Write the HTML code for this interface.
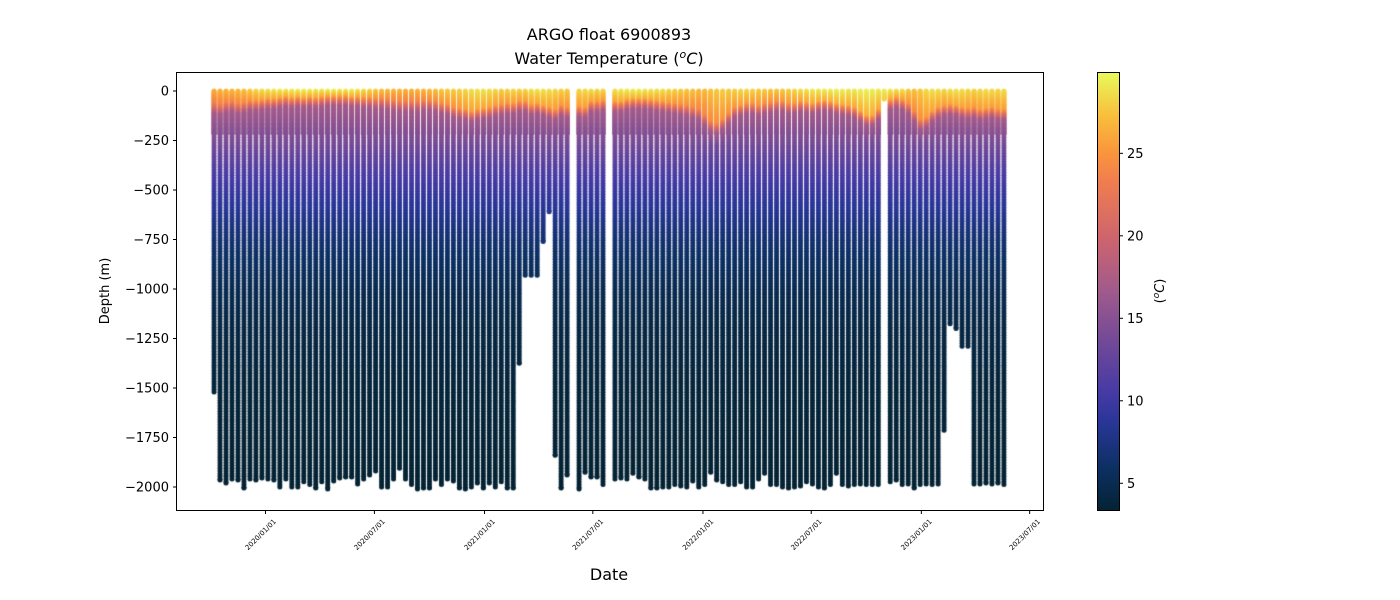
<!DOCTYPE html>
<html><head><meta charset="utf-8"><title>ARGO float 6900893</title>
<style>
html,body{margin:0;padding:0;background:#fff;}
#wrap{position:relative;width:1400px;height:600px;overflow:hidden;}
#dots,#ax{position:absolute;left:0;top:0;}
svg text{font-family:"DejaVu Sans","Liberation Sans",sans-serif;fill:#000;}
</style></head>
<body>
<div id="wrap">
<canvas id="dots" width="1400" height="600"></canvas>
<svg id="ax" width="1400" height="600" xmlns="http://www.w3.org/2000/svg">
  <defs>
    <linearGradient id="cbgrad" x1="0" y1="1" x2="0" y2="0">
      <stop offset="0" stop-color="rgb(4,35,51)"/>
      <stop offset="0.10" stop-color="rgb(13,48,100)"/>
      <stop offset="0.20" stop-color="rgb(40,54,150)"/>
      <stop offset="0.27" stop-color="rgb(70,58,165)"/>
      <stop offset="0.40" stop-color="rgb(120,75,150)"/>
      <stop offset="0.50" stop-color="rgb(160,90,140)"/>
      <stop offset="0.62" stop-color="rgb(205,100,110)"/>
      <stop offset="0.75" stop-color="rgb(240,125,80)"/>
      <stop offset="0.82" stop-color="rgb(250,150,60)"/>
      <stop offset="0.90" stop-color="rgb(248,190,60)"/>
      <stop offset="1" stop-color="rgb(232,250,90)"/>
    </linearGradient>
  </defs>
  <text x="609" y="40" font-size="16" text-anchor="middle">ARGO float 6900893</text>
  <text x="609" y="64" font-size="16" text-anchor="middle">Water Temperature (<tspan font-style="italic" font-size="11" dy="-6">o</tspan><tspan font-style="italic" dy="6">C</tspan>)</text>
  <rect x="176.5" y="72.5" width="867" height="438" fill="none" stroke="#000" stroke-width="1"/>
  <g id="yticks"></g>
  <g id="xticks"></g>
  <text transform="translate(109,291) rotate(-90)" font-size="13" text-anchor="middle">Depth (m)</text>
  <text x="609" y="580" font-size="16" text-anchor="middle">Date</text>
  <rect x="1097.5" y="72.5" width="22" height="438" fill="url(#cbgrad)" stroke="#000" stroke-width="1"/>
  <g id="cbticks"></g>
  <text transform="translate(1164,291) rotate(-90)" font-size="13" text-anchor="middle">(<tspan font-style="italic" font-size="9" dy="-5">o</tspan><tspan font-style="italic" dy="5">C</tspan>)</text>
</svg>
</div>
<script>
// ---- data ----
const profileDays = [-86,-76,-66,-56,-46,-36,-26,-16,-6,4,14,24,34,44,54,64,74,84,94,104,114,124,134,144,154,164,174,184,194,204,214,224,234,244,254,264,274,284,294,304,314,324,334,344,354,364,374,384,394,404,414,424,434,444,454,464,474,484,494,504,
524,534,544,554,564,
584,594,604,614,624,634,644,654,664,674,684,694,704,714,724,734,744,754,764,774,784,794,804,814,824,834,844,854,864,874,884,894,904,914,924,934,944,954,964,974,984,994,1004,1014,1024,1034,1044,1054,1064,1074,1084,1094,1104,1114,1124,1134,1144,1154,1164,1174,1184,1194,1204,1214,1224,1234];
const maxDepth = [1520,1965,1980,1960,1965,2005,1960,1965,1955,1960,1965,2000,1960,2000,2000,1975,1990,2005,1975,2010,1970,1955,1950,1950,1985,1960,1940,1920,2000,2000,1960,1905,1960,1990,2010,2005,2005,1960,1990,1960,1970,2005,2010,2000,1980,2005,1980,2000,1975,2005,2005,1375,930,930,930,760,610,1840,2005,1940,
2010,1925,1950,1950,1990,
1960,1955,1960,1930,1950,1960,2005,2005,2000,2000,1990,1995,2000,1970,2000,1990,1925,1965,1975,1990,1990,1975,2000,2000,1960,1930,1990,1990,2000,2005,2000,1995,1975,1985,2000,2005,1990,1930,1990,1995,1990,1985,1990,1990,1990,40,1975,1965,1990,1985,2005,1990,1985,1990,1985,1715,1175,1200,1290,1290,1985,1985,1980,1985,1980,1990];
const surfaceTemp = [26.5,26.8,27,27,27.2,27.5,28,28.5,28.8,29,29.2,29.3,29.3,29.4,29.5,29.5,29.5,29.3,29.2,29.5,29.6,29.4,29.3,29.5,29.2,28.8,28.5,28,27.5,27.3,27,27,26.8,26.8,27,27,27.3,27.5,27.8,28,28,28.2,28.5,28.8,29,29,28.8,28.5,28.2,28.3,28.5,28.3,28.5,28.8,29,29,28.8,28.5,28.2,28,
28.5,28.6,28.8,28.5,28.5,
29,29.2,29.4,29.5,29.5,29.3,29.2,29,28.8,28.5,28.2,28,27.8,27.5,27.2,27.2,27.5,27.8,28,28,28.2,28.5,28.5,28.3,28,28,27.8,27.8,28,28.2,28.5,28.8,29,29.2,29.3,29.4,29.5,29.6,29.5,29.3,29.2,29.5,29.6,29.4,29.2,29.5,29.3,29,28.8,28,27.5,27.8,28.5,28.8,28.8,28.5,28.8,29,28.8,28.5,28.3,28.5,28.8,28.6,28.5,28.7];
const mixedDepth = [70,75,65,60,70,65,55,55,50,45,45,40,35,40,35,40,35,40,35,30,30,30,30,35,35,40,40,45,45,50,55,60,60,60,60,55,55,60,70,75,90,95,100,110,100,95,90,80,75,70,70,60,60,75,70,80,90,100,80,90,85,90,
60,60,55,60,60,
50,45,45,45,50,55,60,65,70,75,80,90,100,130,160,170,150,120,90,80,70,70,80,70,65,60,60,70,70,60,65,70,60,55,60,70,75,80,90,110,130,130,100,90,50,40,50,70,110,150,140,110,90,80,75,80,90,95,90,100,95,90,100,100,110,105];
const baseDepths = [200,250,300,400,500,600,700,800,1000,1200,1500,2000];
const baseTemps = [15.5,14.2,13.2,11.3,9.8,8.6,7.3,6.3,5,4.3,3.8,3.4];
const yTickValues = [0,-250,-500,-750,-1000,-1250,-1500,-1750,-2000];
const xTickLabels = ["2020/01/01","2020/07/01","2021/01/01","2021/07/01","2022/01/01","2022/07/01","2023/01/01","2023/07/01"];
const xTickDays = [0,182,366,547,731,912,1096,1277];
const cbTickValues = [5,10,15,20,25];

// ---- scales ----
const tMin = 3.38, tMax = 29.93;
function xScale(day){ return 265.5 + day*0.5984; }
function yScale(depthNeg){ return 91 - depthNeg*0.198; }
function cbScale(t){ return 510 - (t - tMin)/(tMax - tMin)*438; }

const cmap = [[0,4,35,51],[0.10,13,48,100],[0.20,40,54,150],[0.27,70,58,165],[0.40,120,75,150],[0.50,160,90,140],[0.62,205,100,110],[0.75,240,125,80],[0.82,250,150,60],[0.90,248,190,60],[1,232,250,90]];
function color(t){
  let u=(t-tMin)/(tMax-tMin); u=Math.max(0,Math.min(1,u));
  for(let i=1;i<cmap.length;i++){
    if(u<=cmap[i][0]){
      const a=cmap[i-1],b=cmap[i],f=(u-a[0])/(b[0]-a[0]);
      return 'rgb('+Math.round(a[1]+(b[1]-a[1])*f)+','+Math.round(a[2]+(b[2]-a[2])*f)+','+Math.round(a[3]+(b[3]-a[3])*f)+')';
    }
  }
  return 'rgb(232,250,90)';
}
function baseT(z){
  if(z<=baseDepths[0]) return baseTemps[0];
  for(let i=1;i<baseDepths.length;i++){
    if(z<=baseDepths[i]){const f=(z-baseDepths[i-1])/(baseDepths[i]-baseDepths[i-1]);return baseTemps[i-1]+(baseTemps[i]-baseTemps[i-1])*f;}
  }
  return baseTemps[baseTemps.length-1];
}
function tempAt(p,z){
  const ts=surfaceTemp[p], m=mixedDepth[p];
  if(z<=m) return ts-3*(z/m);
  if(z<=m+50) return (ts-3)+(17-(ts-3))*((z-m)/50);
  const z1=m+50, z2=Math.max(260,m+110);
  if(z<z2){const f=(z-z1)/(z2-z1);return 17+(baseT(z2)-17)*f;}
  return baseT(z);
}

// ---- draw dots ----
const ctx=document.getElementById('dots').getContext('2d');
ctx.save();
ctx.beginPath();ctx.rect(177,73,866,437);ctx.clip();
for(let p=0;p<profileDays.length;p++){
  const x=xScale(profileDays[p]);
  const depths=[];
  for(let z=0;z<220&&z<=maxDepth[p];z+=4) depths.push(z);
  for(let z=220;z<=maxDepth[p];z+=13.7) depths.push(z);
  if(depths[depths.length-1]<maxDepth[p]-3) depths.push(maxDepth[p]);
  for(const z of depths){
    ctx.fillStyle=color(tempAt(p,z));
    ctx.beginPath();ctx.arc(x,yScale(-z),2.5,0,Math.PI*2);ctx.fill();
  }
}
ctx.restore();

// ---- axes ----
const NS='http://www.w3.org/2000/svg';
function mk(tag,attrs,parent){const e=document.createElementNS(NS,tag);for(const k in attrs)e.setAttribute(k,attrs[k]);parent.appendChild(e);return e;}
const yg=document.getElementById('yticks');
for(const v of yTickValues){
  const y=yScale(v);
  const ln=mk('line',{x1:176.5,x2:173,y1:y,y2:y,stroke:'#000','stroke-width':1},yg);
  
  
  const t=mk('text',{x:169,y:y+4.5,'font-size':13,'text-anchor':'end'},yg);
  t.textContent=(v<0?'\u2212'+(-v):String(v));
  
  
}
const xg=document.getElementById('xticks');
for(let i=0;i<xTickDays.length;i++){
  const x=xScale(xTickDays[i]);
  const ln=mk('line',{x1:x,x2:x,y1:510.5,y2:514,stroke:'#000','stroke-width':1},xg);
  
  
  const t=mk('text',{transform:'translate('+(x+11)+',522) rotate(-45)','font-size':7,'text-anchor':'end'},xg);
  t.textContent=xTickLabels[i];
  
  
}
const cg=document.getElementById('cbticks');
for(const v of cbTickValues){
  const y=cbScale(v);
  const ln=mk('line',{x1:1119.5,x2:1123,y1:y,y2:y,stroke:'#000','stroke-width':1},cg);
  
  
  const t=mk('text',{x:1127,y:y+4.5,'font-size':13},cg);
  t.textContent=String(v);
  
  
}
</script>
</body></html>
